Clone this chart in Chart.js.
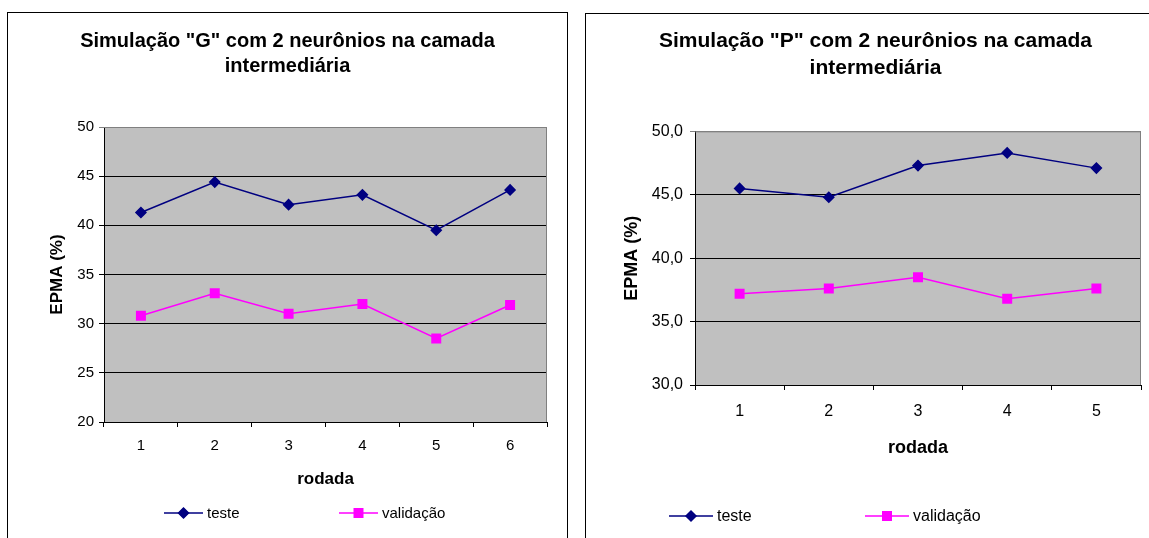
<!DOCTYPE html>
<html lang="pt">
<head>
<meta charset="UTF-8">
<title>EPMA por rodada</title>
<script src="https://cdn.jsdelivr.net/npm/chart.js@4.4.0/dist/chart.umd.min.js"></script>
<style>
  body { margin: 0; background: #fff; width: 1149px; height: 538px; overflow: hidden; position: relative; }
  .box { position: absolute; border: 1px solid #000; background: #fff; }
  #boxG { left: 7px; top: 12px; width: 559px; height: 600px; }
  #boxP { left: 585px; top: 13px; width: 700px; height: 600px; }
  canvas { display: block; }
</style>
</head>
<body>

<div class="box" id="boxG"><canvas id="chartG" width="559" height="525"></canvas></div>
<div class="box" id="boxP"><canvas id="chartP" width="563" height="524"></canvas></div>

<script>
// simulação G
const rodadasG = ['1', '2', '3', '4', '5', '6'];
const testeG = [41.3, 44.4, 42.1, 43.1, 39.5, 43.6];
const validacaoG = [30.8, 33.1, 31.0, 32.0, 28.5, 31.9];
const yTicksG = [20, 25, 30, 35, 40, 45, 50];
const yLabelsG = ['20', '25', '30', '35', '40', '45', '50'];

// simulação P
const rodadasP = ['1', '2', '3', '4', '5'];
const testeP = [45.5, 44.8, 47.3, 48.3, 47.1];
const validacaoP = [37.2, 37.6, 38.5, 36.8, 37.6];
const yTicksP = [30, 35, 40, 45, 50];
const yLabelsP = ['30,0', '35,0', '40,0', '45,0', '50,0'];

const FONT = "'Liberation Sans', Arial, sans-serif";

// grey plot area with grey top/right border, like excel
const plotArea = {
  id: 'plotArea',
  beforeDraw(chart) {
    const {ctx, chartArea: a} = chart;
    ctx.save();
    ctx.fillStyle = '#C0C0C0';
    ctx.fillRect(a.left, a.top, a.right - a.left, a.bottom - a.top);
    ctx.restore();
  },
  beforeDatasetsDraw(chart) {
    const {ctx, chartArea: a} = chart;
    ctx.save();
    ctx.strokeStyle = '#808080';
    ctx.lineWidth = 1;
    ctx.beginPath();
    ctx.moveTo(a.left, a.top + 0.5);
    ctx.lineTo(a.right - 0.5, a.top + 0.5);
    ctx.lineTo(a.right - 0.5, a.bottom);
    ctx.stroke();
    ctx.restore();
  }
};

// legend drawn by hand: line with marker through it
const lineLegend = {
  id: 'lineLegend',
  afterDraw(chart, args, opts) {
    const ctx = chart.ctx;
    ctx.save();
    chart.data.datasets.forEach((ds, i) => {
      const it = opts.items[i];
      const mid = (it.x0 + it.x1) / 2;
      ctx.strokeStyle = ds.borderColor;
      ctx.lineWidth = ds.borderWidth;
      ctx.beginPath();
      ctx.moveTo(it.x0, opts.y);
      ctx.lineTo(it.x1, opts.y);
      ctx.stroke();
      Chart.helpers.drawPoint(ctx, {
        pointStyle: ds.pointStyle, radius: ds.pointRadius, rotation: 0, borderWidth: 1
      }, mid, opts.y);
      ctx.fillStyle = ds.borderColor;
      ctx.fill();
      ctx.fillStyle = '#000';
      ctx.font = opts.fontSize + 'px ' + FONT;
      ctx.textBaseline = 'middle';
      ctx.textAlign = 'left';
      ctx.fillText(ds.label, it.tx, opts.y + 1);
    });
    ctx.restore();
  }
};

function makeChart(id, labels, teste, validacao, yTicks, yLabels, L) {
  const yMin = yTicks[0], yMax = yTicks[yTicks.length - 1];
  return new Chart(document.getElementById(id), {
    type: 'line',
    data: {
      labels: labels,
      datasets: [{
        label: 'teste',
        data: teste,
        borderColor: '#000080',
        backgroundColor: '#000080',
        borderWidth: 1.5,
        pointStyle: 'rectRot',
        pointRadius: 5,
        pointHoverRadius: 5,
        tension: 0
      }, {
        label: 'validação',
        data: validacao,
        borderColor: '#FF00FF',
        backgroundColor: '#FF00FF',
        borderWidth: 1.5,
        pointStyle: 'rect',
        pointRadius: 6,
        pointHoverRadius: 6,
        tension: 0
      }]
    },
    options: {
      responsive: false,
      animation: false,
      layout: { padding: { top: 0, left: L.padLeft, right: L.padRight, bottom: 0 } },
      plugins: {
        legend: { display: false },
        tooltip: { enabled: false },
        title: {
          display: true,
          text: L.title,
          color: '#000',
          font: { family: FONT, size: L.titleSize, weight: 'bold', lineHeight: L.titleLH },
          padding: { top: L.titleTop, bottom: L.titleBottom }
        },
        lineLegend: L.legend
      },
      scales: {
        x: {
          offset: true,
          grid: { offset: true, drawOnChartArea: false, drawTicks: true, tickLength: 5, color: '#000' },
          border: { display: true, color: '#000', width: 1 },
          ticks: { color: '#000', padding: L.xTickPad, font: { family: FONT, size: L.tickSize } },
          title: {
            display: true, text: 'rodada', color: '#000',
            font: { family: FONT, size: L.axisSize, weight: 'bold' },
            padding: { top: 0, bottom: L.xTitleBottom }
          },
          afterFit(s) { s.height = L.xHeight; }
        },
        y: {
          min: yMin,
          max: yMax,
          afterBuildTicks(s) { s.ticks = yTicks.map(v => ({ value: v })); },
          grid: {
            color: c => (c.tick && c.tick.value === yMax) ? '#808080' : '#000',
            drawTicks: true, tickLength: 5
          },
          border: { display: true, color: '#000', width: 1 },
          ticks: {
            color: '#000', padding: L.yTickPad,
            font: { family: FONT, size: L.tickSize },
            callback: v => yLabels[yTicks.indexOf(v)]
          },
          title: {
            display: true, text: 'EPMA (%)', color: '#000',
            font: { family: FONT, size: L.axisSize, weight: 'bold' },
            padding: { top: L.yTitleTop, bottom: 0 }
          },
          afterFit(s) { s.width = L.yWidth; }
        }
      }
    },
    plugins: [plotArea, lineLegend]
  });
}

makeChart('chartG', rodadasG, testeG, validacaoG, yTicksG, yLabelsG, {
  title: ['Simulação "G" com 2 neurônios na camada', 'intermediária'],
  titleSize: 20, titleLH: 1.25, titleTop: 16, titleBottom: 48,
  padLeft: 20, padRight: 20, yWidth: 76, xHeight: 116,
  tickSize: 15, axisSize: 17, xTickPad: 10, yTickPad: 5,
  xTitleBottom: 48, yTitleTop: 19,
  legend: { y: 500, fontSize: 15, items: [{ x0: 156, x1: 195, tx: 199 }, { x0: 331, x1: 370, tx: 374 }] }
});

makeChart('chartP', rodadasP, testeP, validacaoP, yTicksP, yLabelsP, {
  title: ['Simulação "P" com 2 neurônios na camada', 'intermediária'],
  titleSize: 21, titleLH: 1.27, titleTop: 14, titleBottom: 50,
  padLeft: 24, padRight: 8, yWidth: 85, xHeight: 153,
  tickSize: 16, axisSize: 18, xTickPad: 12, yTickPad: 7,
  xTitleBottom: 79, yTitleTop: 11,
  legend: { y: 502, fontSize: 16, items: [{ x0: 83, x1: 127, tx: 131 }, { x0: 279, x1: 323, tx: 327 }] }
});
</script>
</body>
</html>
